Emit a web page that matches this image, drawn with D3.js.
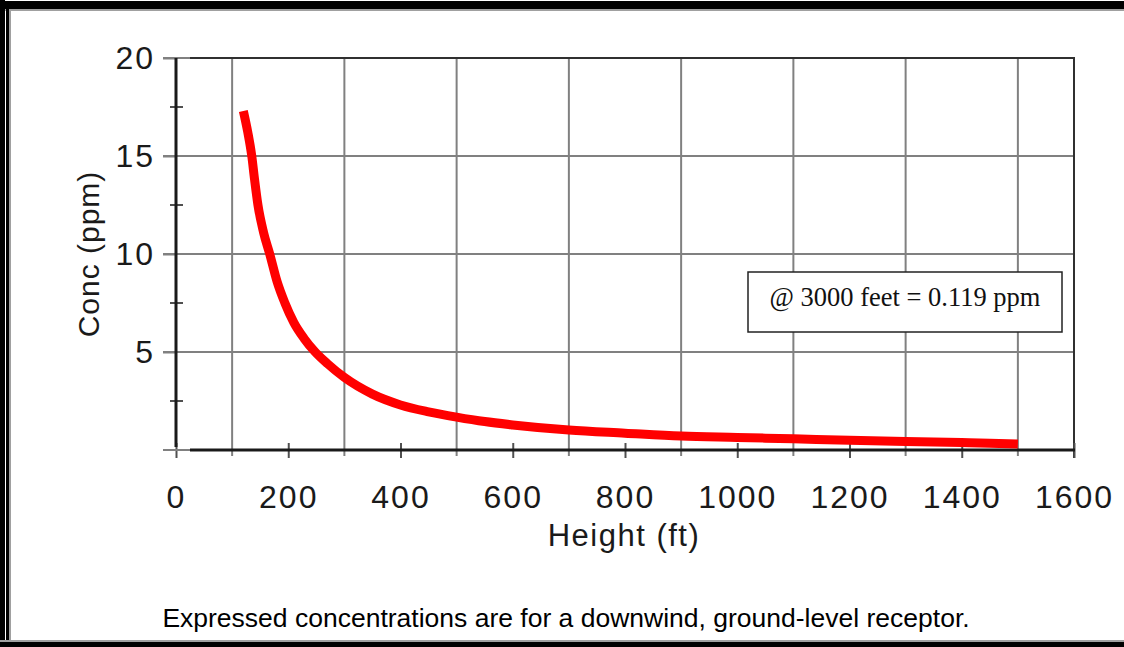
<!DOCTYPE html>
<html>
<head>
<meta charset="utf-8">
<script src="https://cdn.jsdelivr.net/npm/d3@7"></script>
<style>
  body { margin: 0; background: #fff; }
  svg text { font-family: "Liberation Sans", Arial, sans-serif; }
</style>
</head>
<body>
<div id="chart"></div>
<script>
// concentration vs stack height
const heights = [120, 128, 135, 140, 146, 156, 167, 180, 194, 210, 228, 248, 270, 300, 350,
                 400, 450, 500, 550, 600, 700, 800, 900, 1000, 1100, 1200, 1300, 1400, 1450, 1500];
const concs = [17.3, 16.2, 15.0, 13.8, 12.5, 11.1, 10.0, 8.6, 7.5, 6.5, 5.7, 5.0, 4.4, 3.7, 2.85,
               2.3, 1.95, 1.68, 1.45, 1.28, 1.02, 0.86, 0.71, 0.64, 0.57, 0.5, 0.44, 0.38, 0.35, 0.3];
const xTicks = [0, 200, 400, 600, 800, 1000, 1200, 1400, 1600];
const xGrid = [100, 300, 500, 700, 900, 1100, 1300, 1500];
const yTicks = [5, 10, 15, 20];
const yMinor = [2.5, 7.5, 12.5, 17.5];
const noteText = "@ 3000 feet = 0.119 ppm";
const captionText = "Expressed concentrations are for a downwind, ground-level receptor.";

const W = 1124, H = 647;
const svg = d3.select("#chart").append("svg")
  .attr("width", W).attr("height", H);

// window frame
svg.append("rect").attr("x", 0).attr("y", 0).attr("width", W).attr("height", H).attr("fill", "#fff");
svg.append("rect").attr("x", 0).attr("y", 1).attr("width", W).attr("height", 8).attr("fill", "#000");
svg.append("rect").attr("x", 0).attr("y", 9).attr("width", W).attr("height", 2).attr("fill", "#a0a0a0");
svg.append("rect").attr("x", 0).attr("y", 0).attr("width", 5).attr("height", H).attr("fill", "#000");
svg.append("rect").attr("x", 6).attr("y", 9).attr("width", 3).attr("height", H - 9).attr("fill", "#000");
svg.append("rect").attr("x", 9).attr("y", 11).attr("width", 2).attr("height", H - 11).attr("fill", "#a0a0a0");
svg.append("rect").attr("x", 0).attr("y", 640).attr("width", W).attr("height", 2).attr("fill", "#a0a0a0");
svg.append("rect").attr("x", 0).attr("y", 642).attr("width", W).attr("height", 5).attr("fill", "#000");

const x = d3.scaleLinear().domain([0, 1600]).range([176, 1074]);
const y = d3.scaleLinear().domain([0, 20]).range([450, 58]);

// grid lines
svg.append("g").selectAll("line").data(xGrid).enter().append("line")
  .attr("x1", d => x(d)).attr("x2", d => x(d))
  .attr("y1", y(20)).attr("y2", y(0) + 6)
  .attr("stroke", "#808080").attr("stroke-width", 2);
svg.append("g").selectAll("line").data(yTicks).enter().append("line")
  .attr("x1", 163).attr("x2", x(1600))
  .attr("y1", d => y(d)).attr("y2", d => y(d))
  .attr("stroke", "#808080").attr("stroke-width", 2);

// frame: top and right
svg.append("line").attr("x1", 190).attr("x2", x(1600) + 1).attr("y1", y(20)).attr("y2", y(20))
  .attr("stroke", "#303030").attr("stroke-width", 2);
svg.append("line").attr("x1", x(1600)).attr("x2", x(1600)).attr("y1", y(20)).attr("y2", y(0) + 8)
  .attr("stroke", "#303030").attr("stroke-width", 2);

// x axis
const xAxis = d3.axisBottom(x).tickValues(xTicks).tickSize(8).tickFormat(d3.format("d"));
const gx = svg.append("g").attr("transform", `translate(0,${y(0)})`).call(xAxis);
gx.select(".domain").remove();
gx.selectAll(".tick line").attr("y1", -7).attr("stroke", "#505050").attr("stroke-width", 2);
gx.selectAll(".tick text").attr("font-size", 32).attr("fill", "#1a1a1a")
  .attr("letter-spacing", 2).attr("y", 58).attr("dy", 0);
svg.append("line").attr("x1", 163).attr("x2", 190).attr("y1", y(0)).attr("y2", y(0))
  .attr("stroke", "#808080").attr("stroke-width", 2);
svg.append("line").attr("x1", 190).attr("x2", x(1600) + 1).attr("y1", y(0)).attr("y2", y(0))
  .attr("stroke", "#1a1a1a").attr("stroke-width", 3);

// y axis
const yAxis = d3.axisLeft(y).tickValues(yTicks).tickSize(13).tickPadding(8);
const gy = svg.append("g").attr("transform", `translate(${x(0)},0)`).call(yAxis);
gy.select(".domain").remove();
gy.selectAll(".tick line").attr("stroke", "#808080").attr("stroke-width", 2);
gy.selectAll(".tick text").attr("font-size", 32).attr("fill", "#1a1a1a").attr("letter-spacing", 2);
svg.append("g").selectAll("line").data(yMinor).enter().append("line")
  .attr("x1", x(0) - 6).attr("x2", x(0) + 7)
  .attr("y1", d => y(d)).attr("y2", d => y(d))
  .attr("stroke", "#505050").attr("stroke-width", 2);
svg.append("line").attr("x1", x(0)).attr("x2", x(0)).attr("y1", y(20)).attr("y2", y(0) - 3)
  .attr("stroke", "#1a1a1a").attr("stroke-width", 3);

// axis titles
svg.append("text").attr("x", 624).attr("y", 546).attr("text-anchor", "middle")
  .attr("font-size", 31).attr("fill", "#1a1a1a").attr("letter-spacing", 1.5)
  .text("Height (ft)");
svg.append("text").attr("transform", "translate(99,254) rotate(-90)").attr("text-anchor", "middle")
  .attr("font-size", 30).attr("fill", "#1a1a1a").attr("letter-spacing", 1)
  .text("Conc (ppm)");

// the curve
const pts = heights.map((h, i) => [h, concs[i]]);
svg.append("path").datum(pts)
  .attr("d", d3.line().curve(d3.curveMonotoneX).x(d => x(d[0])).y(d => y(d[1])))
  .attr("fill", "none").attr("stroke", "#ff0000").attr("stroke-width", 9)
  .attr("stroke-linejoin", "round");

// note box
svg.append("rect").attr("x", 748).attr("y", 272).attr("width", 314).attr("height", 60)
  .attr("fill", "#fff").attr("stroke", "#222").attr("stroke-width", 1.5);
svg.append("text").attr("x", 905).attr("y", 306).attr("text-anchor", "middle")
  .style("font-family", "'Liberation Serif', 'Times New Roman', serif")
  .attr("font-size", 26.5).attr("fill", "#111").text(noteText);

// caption
svg.append("text").attr("x", 566).attr("y", 627).attr("text-anchor", "middle")
  .attr("font-size", 26.5).attr("fill", "#000").text(captionText);
</script>
</body>
</html>
